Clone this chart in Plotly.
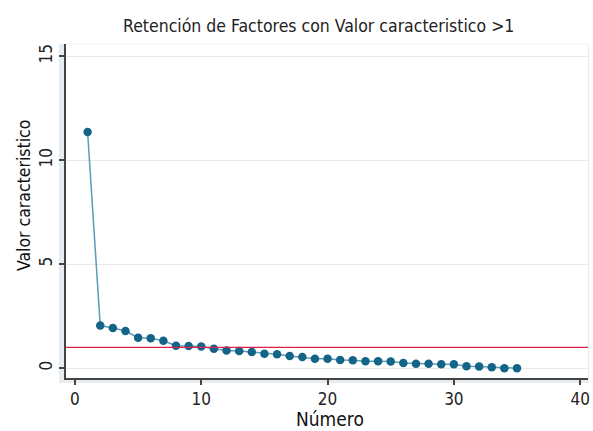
import plotly.graph_objects as go

numero = list(range(1, 36))
valor = [11.36, 2.05, 1.93, 1.79, 1.47, 1.44, 1.32, 1.08, 1.07, 1.04,
         0.94, 0.85, 0.83, 0.78, 0.70, 0.67, 0.59, 0.54, 0.46, 0.46,
         0.40, 0.38, 0.34, 0.34, 0.32, 0.25, 0.22, 0.22, 0.19, 0.19,
         0.10, 0.08, 0.05, 0.00, 0.00]
umbral = 1
x_ticks = [0, 10, 20, 30, 40]
y_ticks = [0, 5, 10, 15]

FONT = "DejaVu Sans Condensed, Liberation Sans Narrow, sans-serif"
W, H = 593, 431
L, R, T, B = 66, 5, 44, 53


def px(xp):
    return (xp - L) / (W - L - R)


def py(yp):
    return (H - B - yp) / (H - T - B)


fig = go.Figure()
fig.add_trace(go.Scatter(
    x=numero, y=valor, mode="lines+markers",
    line=dict(color="#5a9bb8", width=1.5),
    marker=dict(color="#136487", size=8.5, symbol="circle"),
    showlegend=False, hoverinfo="x+y"))
fig.add_shape(type="line", xref="paper", x0=0, x1=1, yref="y", y0=umbral, y1=umbral,
              line=dict(color="#dc1f4b", width=1.3), layer="above")

# gray band around the plot region (outside the plot area only)
band = "#e6ecef"
fig.add_shape(type="rect", xref="paper", yref="paper",
              x0=px(59), x1=px(66), y0=py(383), y1=py(44),
              fillcolor=band, line=dict(width=0), layer="below")
fig.add_shape(type="rect", xref="paper", yref="paper",
              x0=px(59), x1=px(589), y0=py(383), y1=py(378),
              fillcolor=band, line=dict(width=0), layer="below")
fig.add_shape(type="rect", xref="paper", yref="paper",
              x0=px(588), x1=px(589), y0=py(383), y1=py(44),
              fillcolor=band, line=dict(width=0), layer="below")
fig.add_shape(type="line", xref="paper", yref="paper",
              x0=0, x1=1, y0=1, y1=1,
              line=dict(color="#eef1f3", width=1), layer="below")

fig.update_layout(
    width=W, height=H,
    margin=dict(l=L, r=R, t=T, b=B, autoexpand=False),
    paper_bgcolor="white", plot_bgcolor="white",
    font=dict(family=FONT, color="#222"),
    annotations=[
        dict(text="Retención de Factores con Valor caracteristico >1",
             xref="paper", yref="paper", x=px(318), y=py(26),
             xanchor="center", yanchor="middle", showarrow=False,
             font=dict(size=17.5, family=FONT, color="#222")),
        dict(text="Número",
             xref="paper", yref="paper", x=px(330), y=py(419),
             xanchor="center", yanchor="middle", showarrow=False,
             font=dict(size=19, family=FONT, color="#111")),
        dict(text="Valor caracteristico",
             xref="paper", yref="paper", x=px(24), y=py(196),
             xanchor="center", yanchor="middle", showarrow=False, textangle=-90,
             font=dict(size=17.5, family=FONT, color="#111")),
    ],
)
fig.update_xaxes(range=[-0.71, 40.62], tickvals=x_ticks, showgrid=False,
                 showline=True, linecolor="#444", linewidth=1.5,
                 ticks="outside", ticklen=5, tickcolor="#444", tickwidth=1.5,
                 tickfont=dict(size=17, family=FONT, color="#222"),
                 zeroline=False, automargin=False)
fig.update_yaxes(range=[-0.47, 15.59], tickvals=y_ticks, showgrid=True,
                 gridcolor="#e6eaec", gridwidth=1,
                 showline=True, linecolor="#444", linewidth=1.5,
                 ticks="outside", ticklen=5, tickcolor="#444", tickwidth=1.5,
                 tickangle=-90,
                 tickfont=dict(size=17, family=FONT, color="#222"),
                 zeroline=False, automargin=False)

fig.write_html("out.html",
               config={"displayModeBar": False},
               post_script="document.body.style.margin='0';document.body.style.padding='0';")
